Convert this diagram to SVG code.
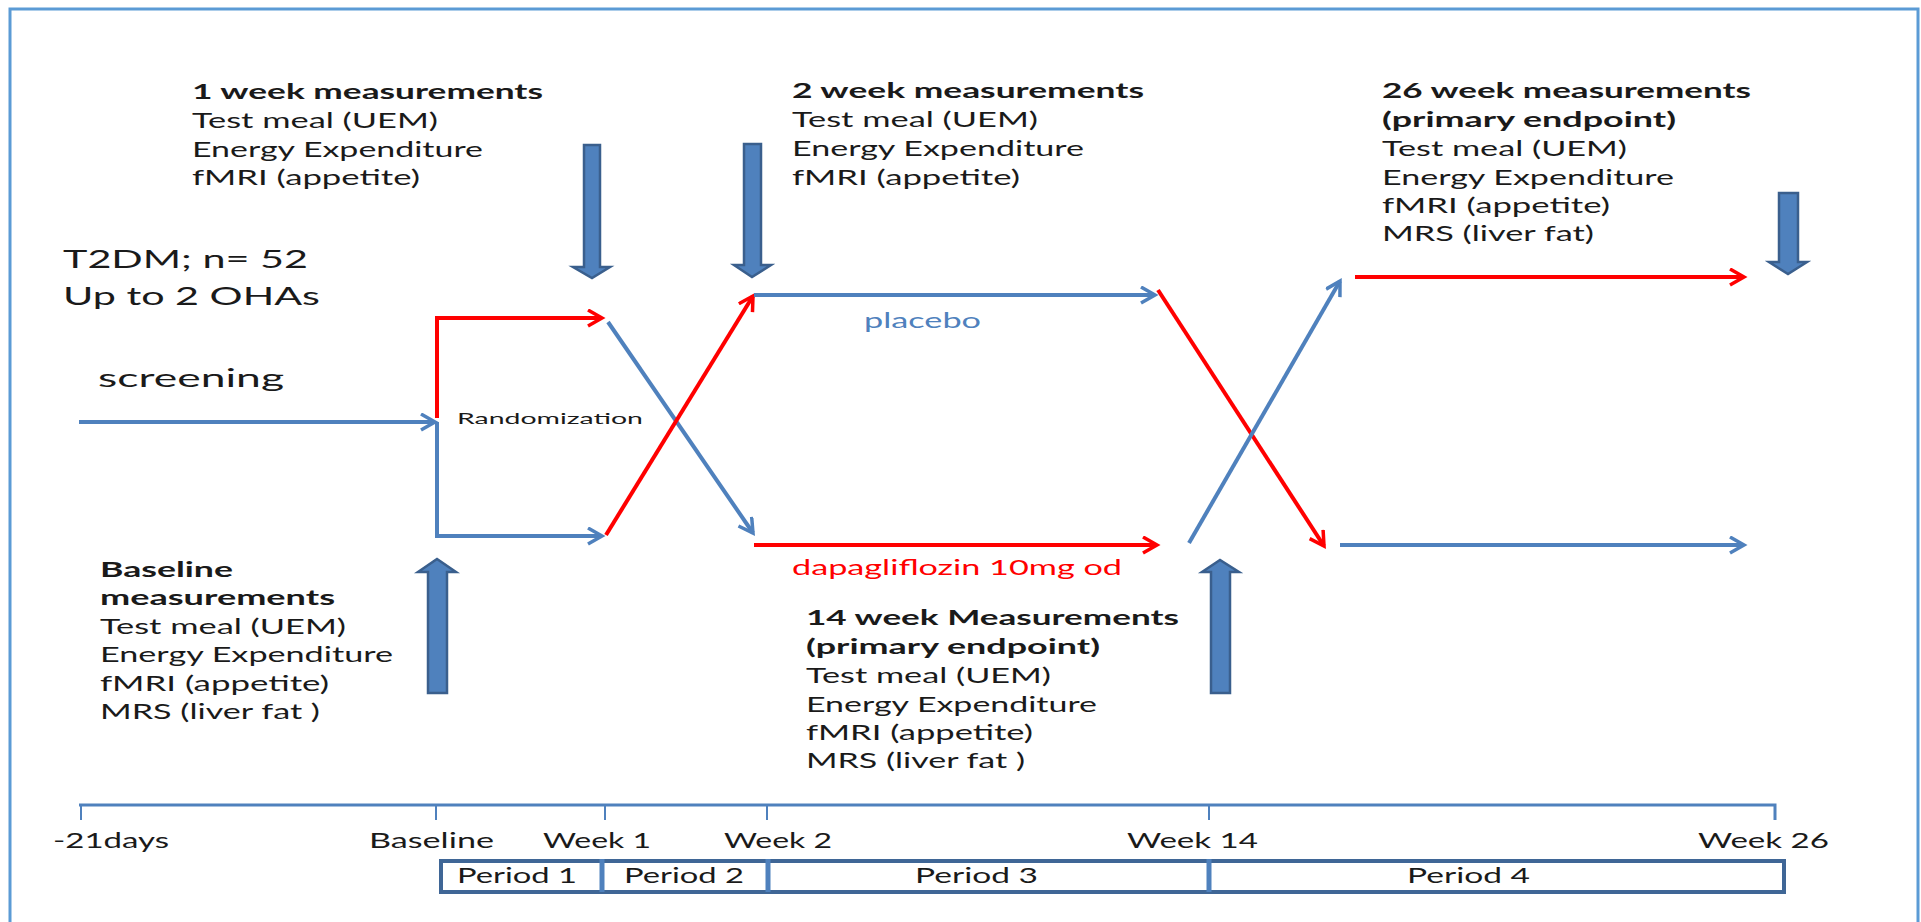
<svg xmlns="http://www.w3.org/2000/svg" width="1921" height="922" viewBox="0 0 1921 922">
<defs>
<style>
.t{font-family:Lato,"Open Sans","Liberation Sans",sans-serif;font-size:21px;fill:#1a1a1a}
.b{font-weight:bold}
.big{font-size:25px}
.sm{font-size:16px}
.blue{stroke:#4F81BD;stroke-width:4;fill:none}
.red{stroke:#FF0000;stroke-width:4;fill:none}
.blk{fill:#4F81BD;stroke:#3A5F8D;stroke-width:2.5;stroke-linejoin:miter}
.axis{stroke:#4F81BD;stroke-width:3;fill:none}
.tick{stroke:#4F81BD;stroke-width:2;fill:none}
</style>
<marker id="ab" markerUnits="userSpaceOnUse" markerWidth="20" markerHeight="20" refX="15" refY="9" orient="auto">
<path d="M1,1 L15,9 L1,17" fill="none" stroke="#4F81BD" stroke-width="3.5"/>
</marker>
<marker id="ar" markerUnits="userSpaceOnUse" markerWidth="20" markerHeight="20" refX="15" refY="9" orient="auto">
<path d="M1,1 L15,9 L1,17" fill="none" stroke="#FF0000" stroke-width="3.5"/>
</marker>
</defs>
<rect x="0" y="0" width="1921" height="922" fill="#FFFFFF"/>
<rect id="frame" x="10" y="9" width="1908" height="940" fill="none" stroke="#5B9BD5" stroke-width="3"/>

<g id="connectors">
<path class="blue" d="M79,422 L435,422" marker-end="url(#ab)"/>
<path class="red" d="M437,418 L437,318 L602,318" marker-end="url(#ar)"/>
<path class="blue" d="M437,422 L437,536 L602,536" marker-end="url(#ab)"/>
<path class="blue" d="M608,322 L753,533" marker-end="url(#ab)"/>
<path class="red" d="M606,535 L753,296" marker-end="url(#ar)"/>
<path class="blue" d="M754,295 L1155,295" marker-end="url(#ab)"/>
<path class="red" d="M754,545 L1157,545" marker-end="url(#ar)"/>
<path class="red" d="M1158,290 L1324,546" marker-end="url(#ar)"/>
<path class="blue" d="M1189,543 L1340,281" marker-end="url(#ab)"/>
<path class="red" d="M1355,277 L1744,277" marker-end="url(#ar)"/>
<path class="blue" d="M1340,545 L1744,545" marker-end="url(#ab)"/>
</g>

<g id="study-info">
<text class="t big" x="63" y="268" textLength="245" lengthAdjust="spacingAndGlyphs">T2DM; n= 52</text>
<text class="t big" x="63" y="305" textLength="257" lengthAdjust="spacingAndGlyphs">Up to 2 OHAs</text>
</g>
<g id="screening">
<text class="t big" x="98" y="387" textLength="186" lengthAdjust="spacingAndGlyphs">screening</text>
</g>
<g id="randomization">
<text class="t sm" x="457" y="424" textLength="186" lengthAdjust="spacingAndGlyphs">Randomization</text>
</g>
<g id="placebo-label">
<text class="t" x="864" y="328" textLength="117" lengthAdjust="spacingAndGlyphs" style="fill:#4F81BD">placebo</text>
</g>
<g id="dapagliflozin-label">
<text class="t" x="792" y="575" textLength="330" lengthAdjust="spacingAndGlyphs" style="fill:#FF0000">dapagliflozin 10mg od</text>
</g>

<g id="week1-measurements">
<text class="t b" x="192" y="99" textLength="351" lengthAdjust="spacingAndGlyphs">1 week measurements</text>
<text class="t" x="192" y="128" textLength="246" lengthAdjust="spacingAndGlyphs">Test meal (UEM)</text>
<text class="t" x="192" y="157" textLength="291" lengthAdjust="spacingAndGlyphs">Energy Expenditure</text>
<text class="t" x="192" y="185" textLength="228" lengthAdjust="spacingAndGlyphs">fMRI (appetite)</text>
<path class="blk" d="M584,145 L600,145 L600,267 L610,267 L592,278 L573,267 L584,267 Z"/>
</g>

<g id="week2-measurements">
<text class="t b" x="792" y="98" textLength="352" lengthAdjust="spacingAndGlyphs">2 week measurements</text>
<text class="t" x="792" y="127" textLength="246" lengthAdjust="spacingAndGlyphs">Test meal (UEM)</text>
<text class="t" x="792" y="156" textLength="292" lengthAdjust="spacingAndGlyphs">Energy Expenditure</text>
<text class="t" x="792" y="185" textLength="228" lengthAdjust="spacingAndGlyphs">fMRI (appetite)</text>
<path class="blk" d="M744,144 L761,144 L761,265 L771,265 L752,277 L734,265 L744,265 Z"/>
</g>

<g id="week26-measurements">
<text class="t b" x="1382" y="98" textLength="369" lengthAdjust="spacingAndGlyphs">26 week measurements</text>
<text class="t b" x="1382" y="127" textLength="294" lengthAdjust="spacingAndGlyphs">(primary endpoint)</text>
<text class="t" x="1382" y="156" textLength="245" lengthAdjust="spacingAndGlyphs">Test meal (UEM)</text>
<text class="t" x="1382" y="185" textLength="292" lengthAdjust="spacingAndGlyphs">Energy Expenditure</text>
<text class="t" x="1382" y="213" textLength="228" lengthAdjust="spacingAndGlyphs">fMRI (appetite)</text>
<text class="t" x="1382" y="241" textLength="212" lengthAdjust="spacingAndGlyphs">MRS (liver fat)</text>
<path class="blk" d="M1779,193 L1798,193 L1798,262 L1807,262 L1788,274 L1769,262 L1779,262 Z"/>
</g>

<g id="baseline-measurements">
<text class="t b" x="100" y="577" textLength="133" lengthAdjust="spacingAndGlyphs">Baseline</text>
<text class="t b" x="100" y="605" textLength="235" lengthAdjust="spacingAndGlyphs">measurements</text>
<text class="t" x="100" y="634" textLength="246" lengthAdjust="spacingAndGlyphs">Test meal (UEM)</text>
<text class="t" x="100" y="662" textLength="293" lengthAdjust="spacingAndGlyphs">Energy Expenditure</text>
<text class="t" x="100" y="691" textLength="229" lengthAdjust="spacingAndGlyphs">fMRI (appetite)</text>
<text class="t" x="100" y="719" textLength="220" lengthAdjust="spacingAndGlyphs">MRS (liver fat )</text>
<path class="blk" d="M428,693 L447,693 L447,572 L456,572 L437,559 L418,572 L428,572 Z"/>
</g>

<g id="week14-measurements">
<text class="t b" x="806" y="625" textLength="373" lengthAdjust="spacingAndGlyphs">14 week Measurements</text>
<text class="t b" x="806" y="654" textLength="294" lengthAdjust="spacingAndGlyphs">(primary endpoint)</text>
<text class="t" x="806" y="683" textLength="245" lengthAdjust="spacingAndGlyphs">Test meal (UEM)</text>
<text class="t" x="806" y="712" textLength="291" lengthAdjust="spacingAndGlyphs">Energy Expenditure</text>
<text class="t" x="806" y="740" textLength="227" lengthAdjust="spacingAndGlyphs">fMRI (appetite)</text>
<text class="t" x="806" y="768" textLength="219" lengthAdjust="spacingAndGlyphs">MRS (liver fat )</text>
<path class="blk" d="M1211,693 L1230,693 L1230,572 L1239,572 L1220,560 L1202,572 L1211,572 Z"/>
</g>

<g id="timeline">
<path class="axis" d="M79,805 L1775,805 L1775,820"/>
<path class="tick" d="M81,805 V820 M436,805 V820 M605,805 V820 M767,805 V820 M1209,805 V820"/>
<text class="t" x="53" y="848" textLength="116" lengthAdjust="spacingAndGlyphs">-21days</text>
<text class="t" x="369" y="848" textLength="125" lengthAdjust="spacingAndGlyphs">Baseline</text>
<text class="t" x="543" y="848" textLength="108" lengthAdjust="spacingAndGlyphs">Week 1</text>
<text class="t" x="724" y="848" textLength="108" lengthAdjust="spacingAndGlyphs">Week 2</text>
<text class="t" x="1127" y="848" textLength="131" lengthAdjust="spacingAndGlyphs">Week 14</text>
<text class="t" x="1698" y="848" textLength="131" lengthAdjust="spacingAndGlyphs">Week 26</text>
</g>

<g id="periods">
<rect x="441" y="861" width="1343" height="31" fill="none" stroke="#3F6696" stroke-width="4"/>
<path d="M602,859 V892 M768,859 V892 M1209,859 V892" stroke="#4F81BD" stroke-width="5" fill="none"/>
<text class="t" x="457" y="883" textLength="120" lengthAdjust="spacingAndGlyphs">Period 1</text>
<text class="t" x="624" y="883" textLength="120" lengthAdjust="spacingAndGlyphs">Period 2</text>
<text class="t" x="915" y="883" textLength="123" lengthAdjust="spacingAndGlyphs">Period 3</text>
<text class="t" x="1407" y="883" textLength="123" lengthAdjust="spacingAndGlyphs">Period 4</text>
</g>
</svg>
